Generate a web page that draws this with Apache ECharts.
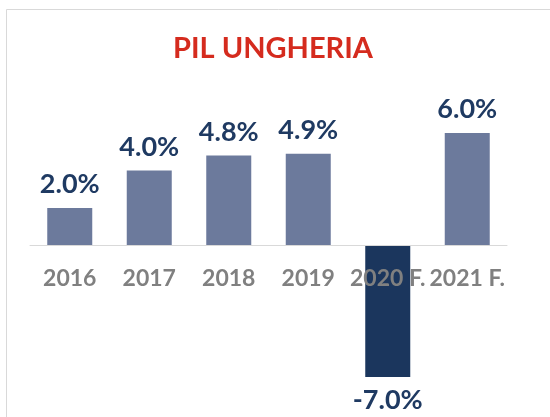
<!DOCTYPE html>
<html>
<head>
<meta charset="utf-8">
<script src="https://cdn.jsdelivr.net/npm/echarts@6/dist/echarts.min.js"></script>
<style>
  html, body { margin: 0; padding: 0; background: #fff; }
  #chart { width: 550px; height: 417px; }
</style>
</head>
<body>
<div id="chart"></div>
<script>
// dati
const categories = ["2016", "2017", "2018", "2019", "2020 F.", "2021 F."];
const pilValues = [2.0, 4.0, 4.8, 4.9, -7.0, 6.0];

const posColor = "#6c7a9c";
const negColor = "#1b365d";
const labelColor = "#1f3a62";

const chart = echarts.init(document.getElementById("chart"));

const option = {
  backgroundColor: "#fff",
  animation: false,
  title: {
    text: "PIL UNGHERIA",
    left: 268,
    textAlign: "center",
    top: 29,
    textStyle: {
      color: "#d52b1e",
      fontFamily: "Lato",
      fontWeight: "bold",
      fontSize: 29
    }
  },
  graphic: [
    {
      type: "rect",
      shape: { x: 6.5, y: 9.5, width: 700, height: 600 },
      style: { fill: "none", stroke: "#d9d9d9", lineWidth: 1 },
      silent: true
    }
  ],
  grid: {
    left: 30,
    right: 43,
    top: 133,
    height: 244
  },
  xAxis: {
    type: "category",
    data: categories,
    z: 10,
    axisLine: { onZero: true, lineStyle: { color: "#d9d9d9", width: 1 } },
    axisTick: { show: false },
    axisLabel: {
      color: "#808080",
      fontFamily: "Lato",
      fontWeight: "bold",
      fontSize: 23,
      // le etichette restano in fondo alla griglia: le riporto sotto lo zero
      margin: -110,
      interval: 0
    }
  },
  yAxis: {
    type: "value",
    min: -7,
    max: 6,
    axisLine: { show: false },
    axisTick: { show: false },
    axisLabel: { show: false },
    splitLine: { show: false }
  },
  series: [
    {
      type: "bar",
      barWidth: 45,
      data: pilValues.map(v => ({
        value: v,
        itemStyle: { color: v < 0 ? negColor : posColor }
      })),
      label: {
        show: true,
        position: "outside",
        distance: 10,
        color: labelColor,
        fontFamily: "Lato",
        fontWeight: "bold",
        fontSize: 27,
        formatter: p => p.value.toFixed(1) + "%"
      }
    }
  ]
};

chart.setOption(option);
</script>
</body>
</html>
